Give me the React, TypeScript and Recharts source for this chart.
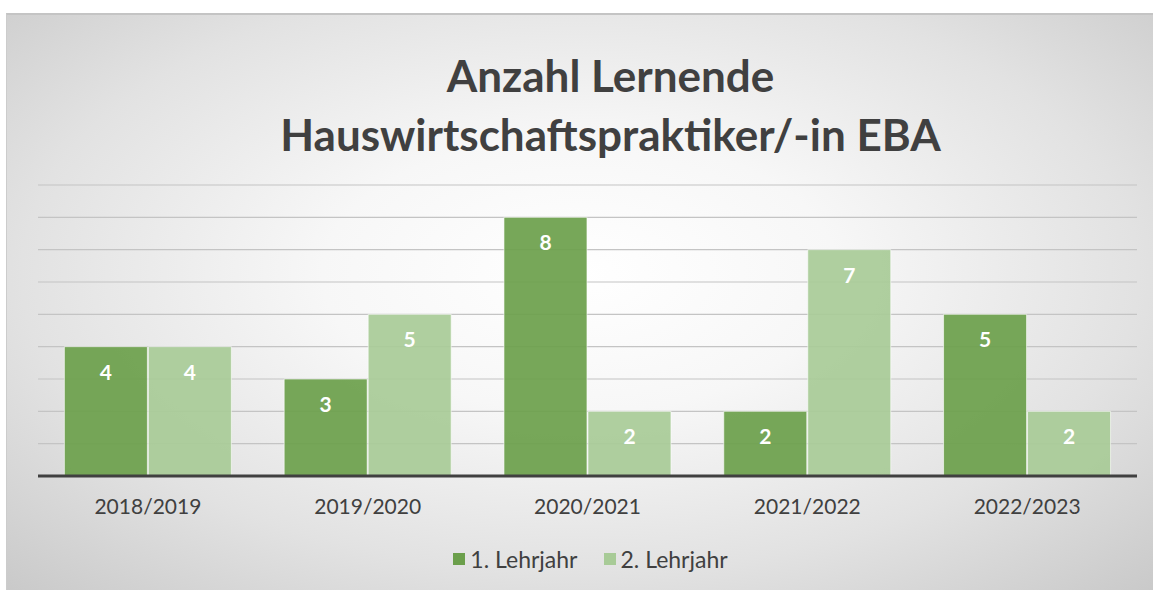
import { Bar, BarChart, CartesianGrid, LabelList, XAxis, YAxis } from "recharts"

const YEARS = ["2018/2019", "2019/2020", "2020/2021", "2021/2022", "2022/2023"]
const FIRST_YEAR = [4, 3, 8, 2, 5]
const SECOND_YEAR = [4, 5, 2, 7, 2]
const Y_TICKS = [0, 1, 2, 3, 4, 5, 6, 7, 8, 9]
const TITLE = ["Anzahl Lernende", "Hauswirtschaftspraktiker/-in EBA"]

const SERIES = [
  { key: "first", label: "1. Lehrjahr", color: "#6b9f4b" },
  { key: "second", label: "2. Lehrjahr", color: "#a8cb97" },
] as const

const FONT = "Lato, 'Open Sans', sans-serif"
const W = 1147
const H = 577

export default function App() {
  const data = YEARS.map((year, i) => ({
    year,
    first: FIRST_YEAR[i],
    second: SECOND_YEAR[i],
  }))

  return (
    <div
      style={{
        position: "absolute",
        left: 6,
        top: 13,
        width: W,
        height: H,
        fontFamily: FONT,
        borderTop: "2px solid #c4c4c4",
        borderLeft: "1px solid #cccccc",
        boxSizing: "border-box",
        background:
          "radial-gradient(ellipse 75% 80% at 50% 45%, #ffffff 0%, #f7f7f7 30%, #e2e2e2 65%, #c6c6c6 100%)",
      }}
    >
      {/* title sits a bit right of the plot centre, like the original */}
      <div
        style={{
          position: "absolute",
          top: 31,
          left: 30,
          width: W,
          textAlign: "center",
          fontSize: 44,
          fontWeight: 700,
          lineHeight: "59px",
          color: "#404040",
        }}
      >
        {TITLE.map((t) => (
          <div key={t}>{t}</div>
        ))}
      </div>

      <div style={{ position: "absolute", left: -1, top: -2 }}>
        <BarChart
          width={W}
          height={H}
          data={data}
          margin={{ top: 172, right: 16, bottom: 84, left: 32 }}
          barCategoryGap="12%"
          barGap={1}
        >
          <CartesianGrid vertical={false} stroke="#c4c4c4" strokeWidth={1.2} />
          <YAxis hide domain={[0, 9]} ticks={Y_TICKS} />
          <XAxis
            dataKey="year"
            height={30}
            tickLine={false}
            axisLine={{ stroke: "#404040", strokeWidth: 3 }}
            tick={{ fill: "#404040", fontSize: 21, fontFamily: FONT }}
            tickMargin={17}
          />
          {SERIES.map((s) => (
            <Bar
              key={s.key}
              dataKey={s.key}
              fill={s.color}
              fillOpacity={0.92}
              stroke="#ffffff"
              strokeOpacity={0.6}
              isAnimationActive={false}
            >
              <LabelList
                dataKey={s.key}
                position="insideTop"
                offset={18}
                fill="#ffffff"
                fontSize={21}
                fontWeight={700}
                fontFamily={FONT}
              />
            </Bar>
          ))}
        </BarChart>
      </div>

      <div
        style={{
          position: "absolute",
          top: 530,
          left: 10,
          width: W,
          display: "flex",
          justifyContent: "center",
          gap: 26,
          fontSize: 23,
          color: "#404040",
        }}
      >
        {SERIES.map((s) => (
          <div key={s.key} style={{ display: "flex", alignItems: "center", gap: 5 }}>
            <span style={{ width: 12, height: 12, background: s.color, display: "inline-block" }} />
            <span>{s.label}</span>
          </div>
        ))}
      </div>
    </div>
  )
}
